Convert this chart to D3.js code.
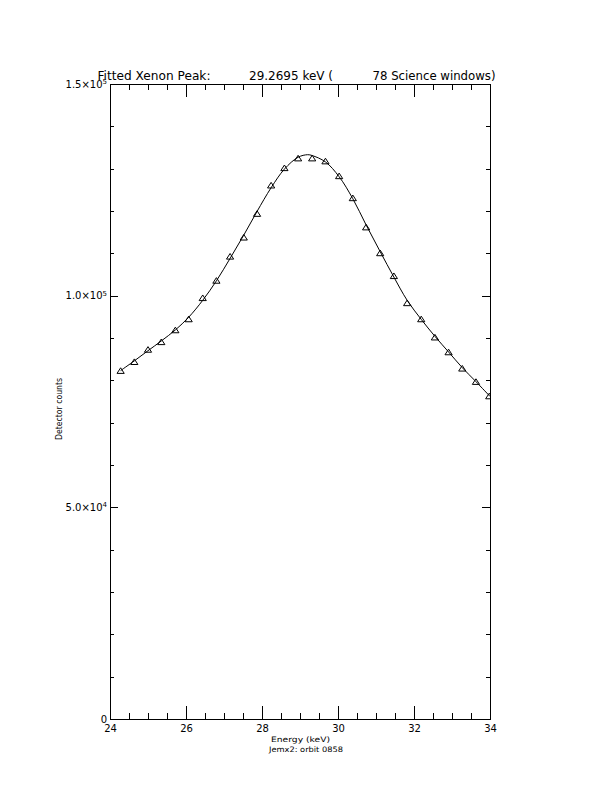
<!DOCTYPE html>
<html>
<head>
<meta charset="utf-8">
<script src="https://cdn.jsdelivr.net/npm/d3@7/dist/d3.min.js"></script>
<style>
html,body{margin:0;padding:0;background:#fff;}
svg{display:block;}
text{font-family:"DejaVu Sans",sans-serif;fill:#000;}
</style>
</head>
<body>
<svg id="chart" width="612" height="792"></svg>
<script>
// ---- data ----
const energy = [24.28,24.64,25.00,25.35,25.72,26.07,26.44,26.80,27.16,27.52,27.87,28.24,28.59,28.95,
                29.32,29.67,30.03,30.39,30.74,31.11,31.47,31.82,32.19,32.55,32.91,33.27,33.63,33.98];
const counts = [82300,84400,87300,89100,91900,94500,99500,103600,109300,113800,119400,126100,130200,132500,
                132500,131800,128300,123100,116200,110100,104700,98300,94500,90200,86700,82850,79700,76300];
const fitEnergy = [24.28,24.64,25.00,25.35,25.72,26.07,26.44,26.80,27.16,27.52,27.87,28.24,28.59,28.95,29.20,
                   29.32,29.67,30.03,30.39,30.74,31.11,31.47,31.82,32.19,32.55,32.91,33.27,33.63,34.00];
const fitCounts = [82300,84600,87000,89300,91900,94900,98900,103500,108800,114300,119900,125500,129900,132700,133300,
                   133100,131600,128100,122900,116700,110400,104400,98900,94400,90400,86700,83000,79700,76200];
const xMajorTicks = [24,26,28,30,32,34];
const xMinorTicks = [24.5,25,25.5,26.5,27,27.5,28.5,29,29.5,30.5,31,31.5,32.5,33,33.5];
const yMajorTicks = [0,50000,100000,150000];
const yMinorTicks = [10000,20000,30000,40000,60000,70000,80000,90000,110000,120000,130000,140000];
const yTickMantissa = ["0","5.0×10","1.0×10","1.5×10"];
const yTickExponent = ["","4","5","5"];
const titleParts = ["Fitted Xenon Peak:","29.2695 keV (","78 Science windows)"];
const xTitle = "Energy (keV)";
const subTitle = "Jemx2: orbit 0858";
const yTitle = "Detector counts";

// ---- layout ----
const L = 110, R = 490, T = 84, B = 719;
const svg = d3.select("#chart");
const x = d3.scaleLinear().domain([24,34]).range([L,R]);
const y = d3.scaleLinear().domain([0,150000]).range([B,T]);

const xMajLen = 12.7, xMinLen = 6.4, yMajLen = 7.6, yMinLen = 3.8;

function axisG(axis, tx, ty){
  const g = svg.append("g").attr("transform",`translate(${tx},${ty})`).call(axis);
  g.selectAll("path.domain").attr("stroke","#000").attr("stroke-width",1).attr("shape-rendering","crispEdges");
  g.selectAll("line").attr("stroke","#000").attr("stroke-width",1).attr("shape-rendering","crispEdges");
  return g;
}
// bottom
const gb = axisG(d3.axisBottom(x).tickValues(xMajorTicks).tickSizeInner(-xMajLen).tickSizeOuter(0)
  .tickPadding(5.6).tickFormat(d3.format("d")), 0, B);
gb.selectAll("text").attr("font-size",10).attr("fill","#000");
axisG(d3.axisBottom(x).tickValues(xMinorTicks).tickSize(-xMinLen).tickFormat(""), 0, B).select("path.domain").remove();
// top
axisG(d3.axisTop(x).tickValues(xMajorTicks).tickSizeInner(-xMajLen).tickSizeOuter(0).tickFormat(""), 0, T);
axisG(d3.axisTop(x).tickValues(xMinorTicks).tickSize(-xMinLen).tickFormat(""), 0, T).select("path.domain").remove();
// left
axisG(d3.axisLeft(y).tickValues(yMajorTicks).tickSizeInner(-yMajLen).tickSizeOuter(0).tickFormat(""), L, 0);
axisG(d3.axisLeft(y).tickValues(yMinorTicks).tickSize(-yMinLen).tickFormat(""), L, 0).select("path.domain").remove();
// right
axisG(d3.axisRight(y).tickValues(yMajorTicks).tickSizeInner(-yMajLen).tickSizeOuter(0).tickFormat(""), R, 0);
axisG(d3.axisRight(y).tickValues(yMinorTicks).tickSize(-yMinLen).tickFormat(""), R, 0).select("path.domain").remove();

// y tick labels
yMajorTicks.forEach((v,i)=>{
  const t = svg.append("text").attr("x",107).attr("y",y(v)+3.5).attr("text-anchor","end").attr("font-size",10);
  t.append("tspan").text(yTickMantissa[i]);
  if (yTickExponent[i]) t.append("tspan").attr("dy",-3.5).attr("font-size",7).text(yTickExponent[i]);
});

// clip
svg.append("defs").append("clipPath").attr("id","plotclip")
  .append("rect").attr("x",L).attr("y",T).attr("width",R-L).attr("height",B-T);
const plot = svg.append("g").attr("clip-path","url(#plotclip)");

// fit line
const line = d3.line().x((d,i)=>x(fitEnergy[i])).y((d,i)=>y(fitCounts[i])).curve(d3.curveCatmullRom.alpha(0.5));
plot.append("path").datum(fitCounts).attr("d",line).attr("fill","none").attr("stroke","#000").attr("stroke-width",1);

// triangles
plot.selectAll("path.pt").data(counts).join("path").attr("class","pt")
  .attr("transform",(d,i)=>`translate(${x(energy[i])},${y(d)})`)
  .attr("d","M-3.6,2.8L0,-2.8L3.6,2.8Z").attr("fill","none").attr("stroke","#000").attr("stroke-width",1);

// titles
const titleX = [97.5,249,372.5], titleW = [113,84,123];
titleParts.forEach((s,i)=>{
  svg.append("text").attr("x",titleX[i]).attr("y",80).attr("font-size",13)
    .attr("textLength",titleW[i]).attr("lengthAdjust","spacingAndGlyphs").text(s);
});
svg.append("text").attr("x",271).attr("y",742).attr("font-size",7.5)
  .attr("textLength",59).attr("lengthAdjust","spacingAndGlyphs").text(xTitle);
svg.append("text").attr("x",269).attr("y",751.5).attr("font-size",7.5)
  .attr("textLength",74).attr("lengthAdjust","spacingAndGlyphs").text(subTitle);
svg.append("text").attr("transform","translate(61.5,440) rotate(-90)").attr("font-size",9.5)
  .attr("textLength",62).attr("lengthAdjust","spacingAndGlyphs").text(yTitle);
</script>
</body>
</html>
